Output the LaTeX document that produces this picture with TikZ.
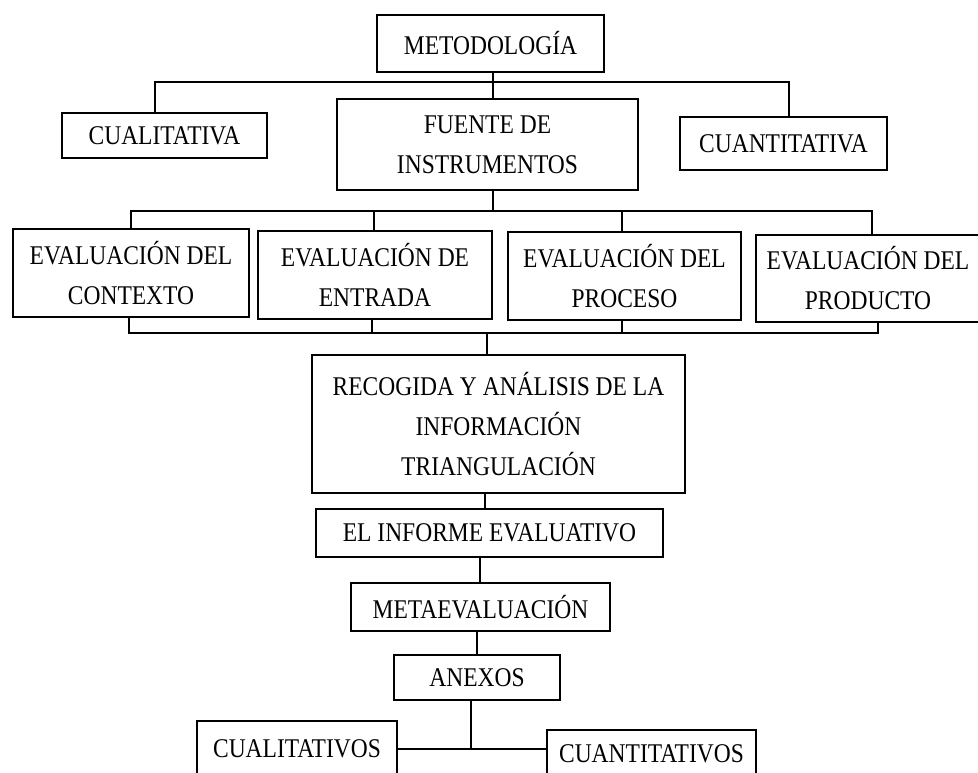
\documentclass[tikz,border=0pt]{standalone}
\usepackage{fontspec}
\setmainfont{Liberation Serif}
\usepackage{graphicx}
\newcommand\St[1]{\scalebox{1}[1.15]{#1}}
\begin{document}
\begin{tikzpicture}[x=1pt,y=-1pt,
  box/.style={draw, line width=2.2pt, inner sep=0pt, align=center,
    font=\fontsize{23.5}{40}\selectfont},
  conn/.style={line width=1.8pt}]
\useasboundingbox (0,0) rectangle (978,772);
\fill[white] (0,0) rectangle (978,772);
\clip (0,0) rectangle (978,772);

% boxes
\node[box, minimum width=227pt, minimum height=57pt] (meto) at (490.5,43.5) {\St{METODOLOGÍA}};
\node[box, minimum width=205pt, minimum height=45pt] (cual) at (164.5,135.5) {\St{CUALITATIVA}};
\node[box, minimum width=301pt, minimum height=91pt] (fuente) at (487.5,144.5) {\St{FUENTE DE}\\\St{INSTRUMENTOS}};
\node[box, minimum width=207pt, minimum height=53pt] (cuant) at (783.5,143.5) {\St{CUANTITATIVA}};

\node[box, minimum width=236pt, minimum height=88pt] (e1) at (131,273) {\St{EVALUACIÓN DEL}\\\St{CONTEXTO}};
\node[box, minimum width=234pt, minimum height=88pt] (e2) at (375,275) {\St{EVALUACIÓN DE}\\\St{ENTRADA}};
\node[box, minimum width=233pt, minimum height=88pt] (e3) at (624.5,276) {\St{EVALUACIÓN DEL}\\\St{PROCESO}};
\node[box, minimum width=224pt, minimum height=87pt] (e4) at (868,278.5) {\St{EVALUACIÓN DEL}\\\St{PRODUCTO}};

\node[box, minimum width=373pt, minimum height=138pt] (recog) at (498.5,424) {\St{RECOGIDA Y ANÁLISIS DE LA}\\\St{INFORMACIÓN}\\\St{TRIANGULACIÓN}};
\node[box, minimum width=347pt, minimum height=48pt] (informe) at (489.5,533) {\St{EL INFORME EVALUATIVO}};
\node[box, minimum width=259pt, minimum height=48pt] (meta) at (480.5,607) {\St{METAEVALUACIÓN}};
\node[box, minimum width=166pt, minimum height=45pt] (anexos) at (477,677.5) {\St{ANEXOS}};
\node[box, minimum width=200pt, minimum height=56pt] (cuals) at (297,749) {\St{CUALITATIVOS}};
\node[box, minimum width=209pt, minimum height=52pt] (cuants) at (651.5,756) {\raisebox{5pt}{\St{CUANTITATIVOS}}};

% bracket 1
\coordinate (b1L) at (155,82);
\coordinate (b1R) at (789,82);
\coordinate (b1C) at (493,82);
\draw[conn] (b1L |- cual.north) -- (b1L) -- (b1R) -- (b1R |- cuant.north);
\draw[conn] (meto.south -| b1C) -- (fuente.north -| b1C);

% bracket 2
\coordinate (b2) at (493,211);
\coordinate (d1) at (131,211);
\coordinate (d2) at (374,211);
\coordinate (d3) at (622,211);
\coordinate (d4) at (872,211);
\draw[conn] (fuente.south -| b2) -- (b2);
\draw[conn] (d1 |- e1.north) -- (d1) -- (d4) -- (d4 |- e4.north);
\draw[conn] (d2) -- (d2 |- e2.north);
\draw[conn] (d3) -- (d3 |- e3.north);

% bracket 3
\coordinate (u0) at (487,333);
\coordinate (u1) at (129,333);
\coordinate (u2) at (372,333);
\coordinate (u3) at (622,333);
\coordinate (u4) at (878,333);
\draw[conn] (e1.south -| u1) -- (u1) -- (u4) -- (e4.south -| u4);
\draw[conn] (e2.south -| u2) -- (u2);
\draw[conn] (e3.south -| u3) -- (u3);
\draw[conn] (u0) -- (recog.north -| u0);

% chain
\coordinate (v1) at (485,500);
\coordinate (v2) at (480,570);
\coordinate (v3) at (477,640);
\coordinate (v4) at (471,749);
\draw[conn] (recog.south -| v1) -- (informe.north -| v1);
\draw[conn] (informe.south -| v2) -- (meta.north -| v2);
\draw[conn] (meta.south -| v3) -- (anexos.north -| v3);
\draw[conn] (anexos.south -| v4) -- (v4);
\draw[conn] (cuals.east |- v4) -- (cuants.west |- v4);
\end{tikzpicture}
\end{document}
